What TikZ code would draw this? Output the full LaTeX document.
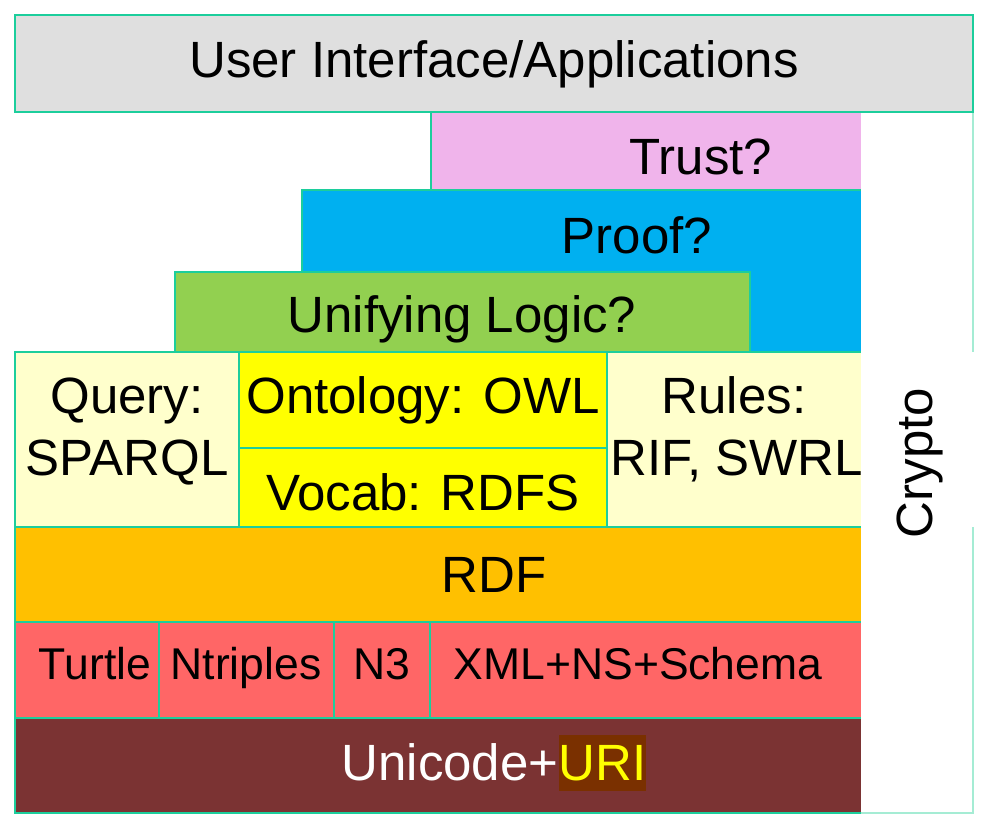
\documentclass[tikz,border=0pt]{standalone}
\usepackage{fontspec}
\setmainfont{Liberation Sans}
\definecolor{bord}{RGB}{28,206,156}
\definecolor{cryptob}{RGB}{165,236,212}
\definecolor{uigray}{RGB}{223,223,223}
\definecolor{trustc}{RGB}{240,180,235}
\definecolor{proofc}{RGB}{0,176,240}
\definecolor{logicc}{RGB}{146,208,80}
\definecolor{paley}{RGB}{255,255,204}
\definecolor{yel}{RGB}{255,255,0}
\definecolor{rdfc}{RGB}{255,192,0}
\definecolor{serc}{RGB}{255,102,102}
\definecolor{unic}{RGB}{123,51,51}
\definecolor{uribg}{RGB}{122,48,0}
\begin{document}
\begin{tikzpicture}[x=1pt,y=-1pt,
  layer/.style={draw=bord,line width=2.5pt},
  cryptoline/.style={draw=cryptob,line width=2.5pt},
  lbl/.style={font=\fontsize{51}{62}\selectfont,inner sep=0pt,anchor=base},
  small/.style={font=\fontsize{44.5}{54}\selectfont,inner sep=0pt,anchor=base}]
\useasboundingbox (0,0) rectangle (988,834);
% layers
\draw[layer,fill=uigray] (15,15) rectangle (973,112);
\draw[layer,fill=trustc] (431,112) rectangle (862,190);
\draw[layer,fill=proofc] (302,190) rectangle (862,352);
\draw[layer,fill=logicc] (175,272) rectangle (750,352);
\draw[layer,fill=paley] (15,352) rectangle (239,527);
\draw[layer,fill=yel] (239,352) rectangle (607,448);
\draw[layer,fill=yel] (239,448) rectangle (607,527);
\draw[layer,fill=paley] (607,352) rectangle (862,527);
\draw[layer,fill=rdfc] (15,527) rectangle (862,622);
\draw[layer,fill=serc] (15,622) rectangle (159,718);
\draw[layer,fill=serc] (159,622) rectangle (334,718);
\draw[layer,fill=serc] (334,622) rectangle (430,718);
\draw[layer,fill=serc] (430,622) rectangle (862,718);
\draw[layer,fill=unic] (15,718) rectangle (862,813);
% crypto column
\fill[white] (861,113.5) rectangle (980,811.75);
\draw[cryptoline] (973,113) -- (973,352);
\draw[cryptoline] (973,527) -- (973,813) -- (861,813);
% labels
\node[lbl] (ui) at (494,78) {User Interface/Applications};
\node[lbl] (trust) at (701,175) {Trust?};
\node[lbl] (proof) at (637,254) {Proof?};
\node[lbl] (logic) at (462,333) {Unifying Logic?};
\node[lbl] (query1) at (127,413) {Query:};
\node[lbl] (query2) at (127,475) {SPARQL};
\node[lbl] (owl) at (423,413) {Ontology: OWL};
\node[lbl] (rdfs) at (423,510) {Vocab: RDFS};
\node[lbl] (rules1) at (734,413) {Rules:};
\node[lbl] (rules2) at (737,475) {RIF, SWRL};
\node[lbl] (rdf) at (494,592) {RDF};
\node[small] (turtle) at (95,679) {Turtle};
\node[small] (ntriples) at (246,679) {Ntriples};
\node[small] (n3) at (382,679) {N3};
\node[small] (xml) at (638,679) {XML+NS+Schema};
\node[lbl,text=white] (uni) at (494,780) {Unicode+{\fboxsep=0pt\colorbox{uribg}{\color{yel}\rule[-11pt]{0pt}{56pt}URI}}};
\node[lbl,rotate=90] (crypto) at (932,463) {Crypto};
\end{tikzpicture}
\end{document}
